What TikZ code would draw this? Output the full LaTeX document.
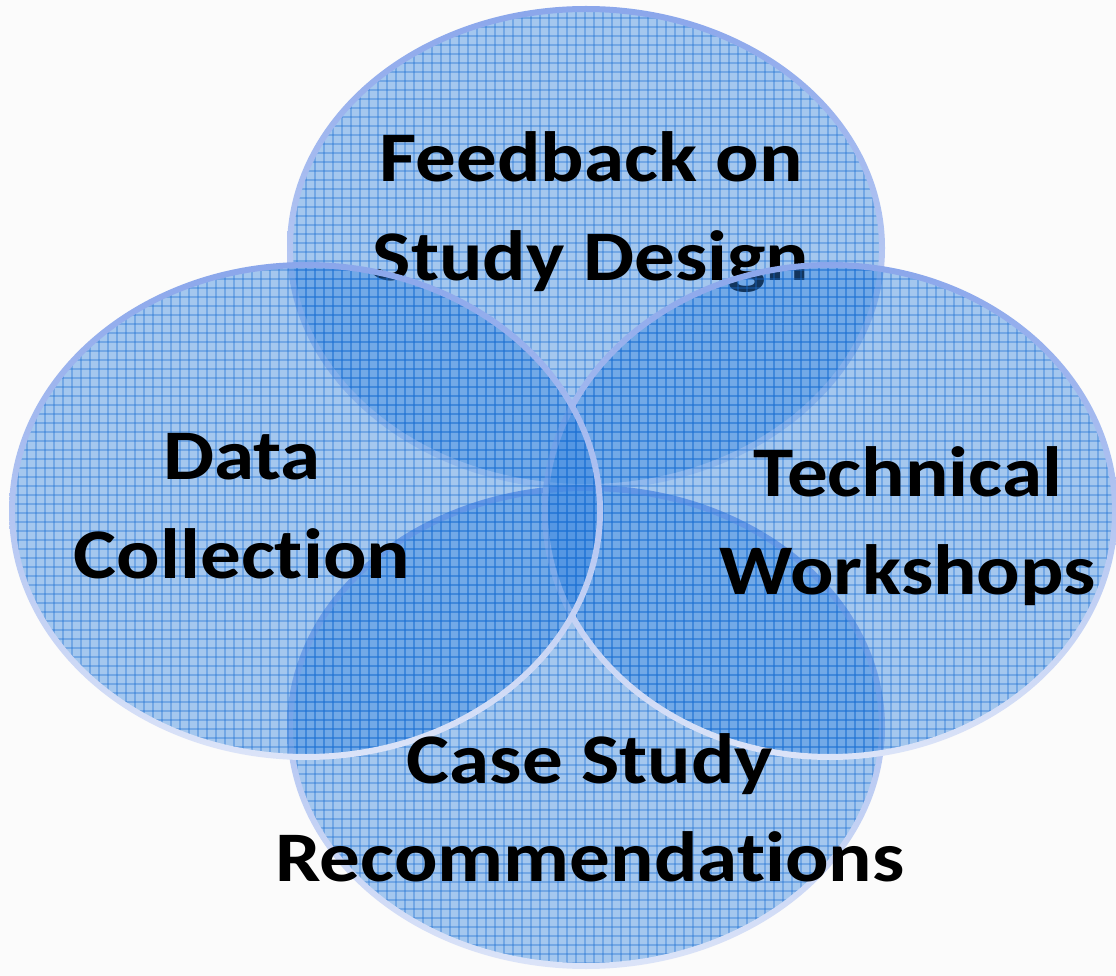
\documentclass[tikz,border=0pt]{standalone}
\usepackage{fontspec}
\setmainfont{Carlito}[Ligatures={NoCommon}]
\definecolor{vennblue}{RGB}{45, 128, 222}
\definecolor{gridblue}{RGB}{25, 110, 210}
\definecolor{rimtop}{RGB}{138, 166, 235}
\definecolor{rimbottom}{RGB}{220, 228, 248}
\definecolor{paper}{RGB}{251, 251, 251}

\begin{document}
\begin{tikzpicture}[x=0.02cm, y=-0.02cm,
  lbl/.style={align=center, font=\fontsize{40.5}{56}\selectfont\bfseries, text=black, xscale=1.14, transform shape},
]
\fill[paper] (0,0) rectangle (1116,976);
\useasboundingbox (0,0) rectangle (1116,976);

% Ellipses: top, bottom, right, left (the top label sits under the later ones)
\foreach \cx/\cy/\rx/\ry/\n in {586/248/296/239/1, 586/727/296/239/2, 830/511/285/246/3, 306/511/294/246/4}{
  \fill[vennblue, fill opacity=0.42] (\cx,\cy) ellipse [x radius=\rx, y radius=\ry];
  % graph paper texture
  \begin{scope}
    \clip (\cx,\cy) ellipse [x radius=\rx, y radius=\ry];
    \foreach \g in {0,9,...,1116} {\draw[gridblue, opacity=0.35, line width=0.6pt] (\g,0) -- (\g,976);}
    \foreach \g in {0,9,...,976} {\draw[gridblue, opacity=0.35, line width=0.6pt] (0,\g) -- (1116,\g);}
  \end{scope}
  % rim, lighter towards the bottom
  \begin{scope}[even odd rule]
    \clip (\cx,\cy) ellipse [x radius=\rx+3, y radius=\ry+3]
          (\cx,\cy) ellipse [x radius=\rx-3, y radius=\ry-3];
    \shade[top color=rimtop, bottom color=rimbottom] (\cx-\rx-5,\cy-\ry-5) rectangle (\cx+\rx+5,\cy+\ry+5);
  \end{scope}
  \ifnum\n=1
    \node[lbl] (feedback) at (591,212) {Feedback on\\Study Design};
  \fi
}

% Labels
\node[lbl] (data) at (242,506) {Data\\Collection};
\node[lbl] (workshops) at (908,526) {Technical\\Workshops};
\node[lbl] (casestudy) at (590,808) {Case Study\\Recommendations};
\end{tikzpicture}
\end{document}
